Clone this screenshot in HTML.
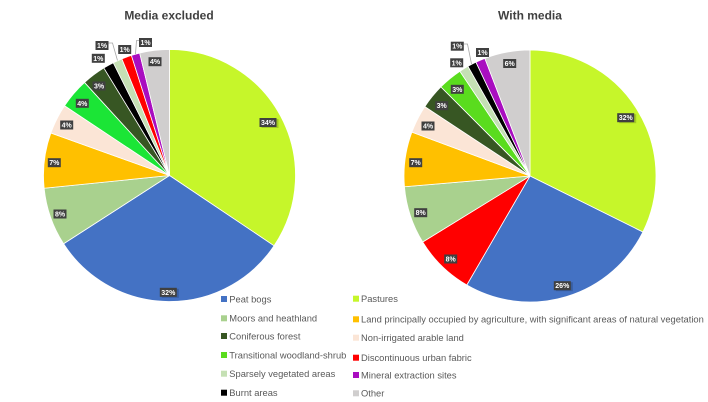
<!DOCTYPE html>
<html>
<head>
<meta charset="utf-8">
<style>
html,body{margin:0;padding:0;background:#fff;}
svg{display:block;}
.t{font-family:"Liberation Sans",sans-serif;font-weight:bold;font-size:12px;fill:#404040;}
.lg{font-family:"Liberation Sans",sans-serif;font-size:9.35px;fill:#595959;}
.lb{font-family:"Liberation Sans",sans-serif;font-weight:bold;font-size:7px;fill:#fff;}
.sl{stroke:#fff;stroke-width:0.8;stroke-linejoin:round;}
.ld{stroke:#A6A6A6;stroke-width:0.8;fill:none;}
</style>
</head>
<body>
<svg width="708" height="402" viewBox="0 0 708 402" xmlns="http://www.w3.org/2000/svg">
<rect width="708" height="402" fill="#fff"/>

<!-- Titles -->
<text class="t" x="169" y="19.5" text-anchor="middle">Media excluded</text>
<text class="t" x="530" y="19.5" text-anchor="middle">With media</text>

<!-- LEFT PIE: center (169.5,175.5) r=126 -->
<g class="sl">
<path fill="#C6F62A" d="M169.5 175.5 L169.5 49.5 A126 126 0 0 1 274.08 245.77 Z"/>
<path fill="#4472C4" d="M169.5 175.5 L274.08 245.77 A126 126 0 0 1 63.58 243.75 Z"/>
<path fill="#A9D18E" d="M169.5 175.5 L63.58 243.75 A126 126 0 0 1 44.15 188.23 Z"/>
<path fill="#FFC000" d="M169.5 175.5 L44.15 188.23 A126 126 0 0 1 50.87 133.03 Z"/>
<path fill="#FBE5D6" d="M169.5 175.5 L50.87 133.03 A126 126 0 0 1 64.55 105.77 Z"/>
<path fill="#1BE536" d="M169.5 175.5 L64.55 105.77 A126 126 0 0 1 84.54 82.45 Z"/>
<path fill="#375623" d="M169.5 175.5 L84.54 82.45 A126 126 0 0 1 103.85 67.95 Z"/>
<path fill="#000000" d="M169.5 175.5 L103.85 67.95 A126 126 0 0 1 113.28 62.74 Z"/>
<path fill="#C5E0B4" d="M169.5 175.5 L113.28 62.74 A126 126 0 0 1 121.89 58.84 Z"/>
<path fill="#FF0000" d="M169.5 175.5 L121.89 58.84 A126 126 0 0 1 131.40 55.40 Z"/>
<path fill="#A90DC0" d="M169.5 175.5 L131.40 55.40 A126 126 0 0 1 139.66 53.08 Z"/>
<path fill="#D0CECE" d="M169.5 175.5 L139.66 53.08 A126 126 0 0 1 169.5 49.5 Z"/>
</g>

<!-- RIGHT PIE: center (530,176) r=126 -->
<g class="sl">
<path fill="#C6F62A" d="M530 176 L530 50 A126 126 0 0 1 642.86 232.02 Z"/>
<path fill="#4472C4" d="M530 176 L642.86 232.02 A126 126 0 0 1 466.81 285.01 Z"/>
<path fill="#FF0000" d="M530 176 L466.81 285.01 A126 126 0 0 1 422.68 242.02 Z"/>
<path fill="#A9D18E" d="M530 176 L422.68 242.02 A126 126 0 0 1 404.46 186.76 Z"/>
<path fill="#FFC000" d="M530 176 L404.46 186.76 A126 126 0 0 1 411.90 132.08 Z"/>
<path fill="#FBE5D6" d="M530 176 L411.90 132.08 A126 126 0 0 1 424.81 106.64 Z"/>
<path fill="#375623" d="M530 176 L424.81 106.64 A126 126 0 0 1 440.90 86.90 Z"/>
<path fill="#5ADC1E" d="M530 176 L440.90 86.90 A126 126 0 0 1 459.91 71.30 Z"/>
<path fill="#C5E0B4" d="M530 176 L459.91 71.30 A126 126 0 0 1 467.96 66.33 Z"/>
<path fill="#000000" d="M530 176 L467.96 66.33 A126 126 0 0 1 475.95 62.18 Z"/>
<path fill="#A90DC0" d="M530 176 L475.95 62.18 A126 126 0 0 1 484.85 58.37 Z"/>
<path fill="#D0CECE" d="M530 176 L484.85 58.37 A126 126 0 0 1 530 50 Z"/>
</g>

<!-- Leader lines -->
<polyline class="ld" points="108.3,43 112.5,43 117.5,60.5"/>
<polyline class="ld" points="139.3,40.5 136.5,40.5 135.5,54"/>
<polyline class="ld" points="464,44 467.5,44 471.5,64"/>

<!-- Data labels (left) -->
<g>
<rect x="260.5" y="118" width="17" height="9" fill="#000" opacity="0.18" transform="translate(1,1)"/>
<rect x="259.5" y="118" width="17" height="9" fill="#404040"/>
<text class="lb" x="268" y="125" text-anchor="middle">34%</text>

<rect x="160.8" y="287.8" width="17" height="9" fill="#000" opacity="0.18" transform="translate(1,1)"/>
<rect x="159.8" y="287.8" width="17" height="9" fill="#404040"/>
<text class="lb" x="168.3" y="294.8" text-anchor="middle">32%</text>

<rect x="53.5" y="209.5" width="13" height="9" fill="#404040"/>
<text class="lb" x="60" y="216.5" text-anchor="middle">8%</text>

<rect x="47.8" y="158.2" width="13" height="9" fill="#404040"/>
<text class="lb" x="54.3" y="165.2" text-anchor="middle">7%</text>

<rect x="60.2" y="120.5" width="13" height="9" fill="#404040"/>
<text class="lb" x="66.7" y="127.5" text-anchor="middle">4%</text>

<rect x="75.8" y="98.8" width="13" height="9" fill="#404040"/>
<text class="lb" x="82.3" y="105.8" text-anchor="middle">4%</text>

<rect x="92.5" y="81.5" width="13" height="9" fill="#404040"/>
<text class="lb" x="99" y="88.5" text-anchor="middle">3%</text>

<rect x="91.8" y="53.8" width="13" height="9" fill="#404040"/>
<text class="lb" x="98.3" y="60.8" text-anchor="middle">1%</text>

<rect x="95.5" y="41" width="13" height="9" fill="#404040"/>
<text class="lb" x="102" y="48" text-anchor="middle">1%</text>

<rect x="118.2" y="45" width="13" height="9" fill="#404040"/>
<text class="lb" x="124.7" y="52" text-anchor="middle">1%</text>

<rect x="139" y="38" width="13" height="9" fill="#404040"/>
<text class="lb" x="145.5" y="45" text-anchor="middle">1%</text>

<rect x="148.5" y="57.2" width="13" height="9" fill="#404040"/>
<text class="lb" x="155" y="64.2" text-anchor="middle">4%</text>
</g>

<!-- Data labels (right) -->
<g>
<rect x="618.2" y="113.2" width="17" height="9" fill="#000" opacity="0.18" transform="translate(1,1)"/>
<rect x="617.2" y="113.2" width="17" height="9" fill="#404040"/>
<text class="lb" x="625.7" y="120.2" text-anchor="middle">32%</text>

<rect x="554.8" y="281.2" width="17" height="9" fill="#000" opacity="0.18" transform="translate(1,1)"/>
<rect x="553.8" y="281.2" width="17" height="9" fill="#404040"/>
<text class="lb" x="562.3" y="288.2" text-anchor="middle">26%</text>

<rect x="444.2" y="254.5" width="13" height="9" fill="#404040"/>
<text class="lb" x="450.7" y="261.5" text-anchor="middle">8%</text>

<rect x="414.2" y="208.2" width="13" height="9" fill="#404040"/>
<text class="lb" x="420.7" y="215.2" text-anchor="middle">8%</text>

<rect x="409.2" y="158.2" width="13" height="9" fill="#404040"/>
<text class="lb" x="415.7" y="165.2" text-anchor="middle">7%</text>

<rect x="421.5" y="121.5" width="13" height="9" fill="#404040"/>
<text class="lb" x="428" y="128.5" text-anchor="middle">4%</text>

<rect x="435.2" y="101.2" width="13" height="9" fill="#404040"/>
<text class="lb" x="441.7" y="108.2" text-anchor="middle">3%</text>

<rect x="450.8" y="84.8" width="13" height="9" fill="#404040"/>
<text class="lb" x="457.3" y="91.8" text-anchor="middle">3%</text>

<rect x="450.2" y="58.3" width="13" height="9" fill="#404040"/>
<text class="lb" x="456.7" y="65.3" text-anchor="middle">1%</text>

<rect x="450.8" y="41.7" width="13" height="9" fill="#404040"/>
<text class="lb" x="457.3" y="48.7" text-anchor="middle">1%</text>

<rect x="476" y="48" width="13" height="9" fill="#404040"/>
<text class="lb" x="482.5" y="55" text-anchor="middle">1%</text>

<rect x="503.2" y="59" width="13" height="9" fill="#404040"/>
<text class="lb" x="509.7" y="66" text-anchor="middle">6%</text>
</g>

<!-- Legend column 1 -->
<rect x="221" y="296" width="6" height="6" fill="#4472C4"/>
<text class="lg" x="229.3" y="302.3">Peat bogs</text>
<rect x="221" y="315.3" width="6" height="6" fill="#A9D18E"/>
<text class="lg" x="229.3" y="321.6">Moors and heathland</text>
<rect x="221" y="333" width="6" height="6" fill="#375623"/>
<text class="lg" x="229.3" y="339.3">Coniferous forest</text>
<rect x="221" y="352" width="6" height="6" fill="#5ADC1E"/>
<text class="lg" x="229.3" y="358.3">Transitional woodland-shrub</text>
<rect x="221" y="370.7" width="6" height="6" fill="#C5E0B4"/>
<text class="lg" x="229.3" y="377">Sparsely vegetated areas</text>
<rect x="221" y="389.7" width="6" height="6" fill="#000000"/>
<text class="lg" x="229.3" y="396">Burnt areas</text>

<!-- Legend column 2 -->
<rect x="353" y="295.7" width="6" height="6" fill="#C6F62A"/>
<text class="lg" x="361" y="302">Pastures</text>
<rect x="353" y="316.3" width="6" height="6" fill="#FFC000"/>
<text class="lg" x="361" y="322.6">Land principally occupied by agriculture, with significant areas of natural vegetation</text>
<rect x="353" y="334.7" width="6" height="6" fill="#FBE5D6"/>
<text class="lg" x="361" y="341">Non-irrigated arable land</text>
<rect x="353" y="354.7" width="6" height="6" fill="#FF0000"/>
<text class="lg" x="361" y="361">Discontinuous urban fabric</text>
<rect x="353" y="372" width="6" height="6" fill="#A90DC0"/>
<text class="lg" x="361" y="378.3">Mineral extraction sites</text>
<rect x="353" y="390.3" width="6" height="6" fill="#D0CECE"/>
<text class="lg" x="361" y="396.6">Other</text>
</svg>
</body>
</html>
